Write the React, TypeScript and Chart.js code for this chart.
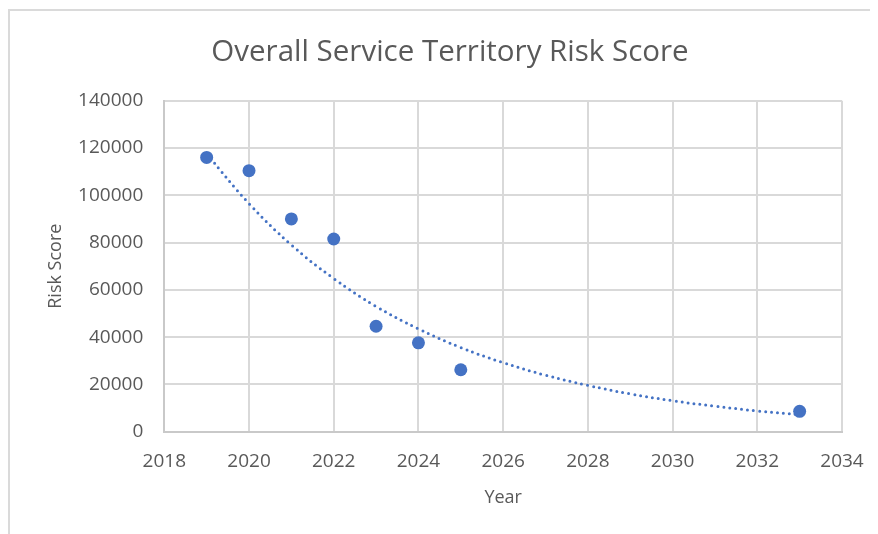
import React, { useEffect, useRef } from "react";
import { Chart, registerables } from "chart.js";

Chart.register(...registerables);

const chartTitle = "Overall Service Territory Risk Score";
const xAxisTitle = "Year";
const yAxisTitle = "Risk Score";

const years = [2019, 2020, 2021, 2022, 2023, 2024, 2025, 2033];
const riskScores = [116000, 110400, 90000, 81500, 44600, 37600, 26200, 8600];

const trendYears = [2019, 2020, 2021, 2022, 2023, 2024, 2025, 2026, 2027, 2028, 2029, 2030, 2031, 2032, 2033];
const trendValues = [117500, 96500, 79000, 64800, 53000, 43500, 35600, 29200, 23900, 19600, 16000, 13100, 10800, 8800, 7200];

const xMin = 2018;
const xMax = 2034;
const xStep = 2;
const yMin = 0;
const yMax = 140000;
const yStep = 20000;

const BLUE = "#4472c4";
const TEXT = "#595959";
const GRID = "#d9d9d9";
const FONT = "'Open Sans', sans-serif";

const titlePlugin = {
  id: "centeredTitle",
  afterDraw(chart: any) {
    const ctx = chart.ctx;
    ctx.save();
    ctx.fillStyle = TEXT;
    ctx.font = `normal 29.5px ${FONT}`;
    ctx.textAlign = "center";
    ctx.textBaseline = "middle";
    ctx.fillText(chartTitle, 440, 41.5);
    ctx.restore();
  },
};

export default function App() {
  const ref = useRef<HTMLCanvasElement | null>(null);

  useEffect(() => {
    if (!ref.current) return;
    const chart = new Chart(ref.current, {
      type: "scatter",
      data: {
        datasets: [
          {
            type: "scatter",
            label: "Risk Score",
            data: years.map((x, i) => ({ x, y: riskScores[i] })),
            backgroundColor: BLUE,
            borderColor: BLUE,
            pointRadius: 6.5,
            pointBorderWidth: 0,
            order: 0,
          },
          {
            type: "line",
            label: "Trend",
            data: trendYears.map((x, i) => ({ x, y: trendValues[i] })),
            borderColor: BLUE,
            borderWidth: 3,
            borderDash: [0, 6],
            borderCapStyle: "round",
            pointRadius: 0,
            tension: 0.4,
            fill: false,
            order: 1,
          } as any,
        ],
      },
      options: {
        animation: false,
        responsive: false,
        maintainAspectRatio: false,
        layout: { padding: { left: 0, right: 36, top: 89.7, bottom: 0 } },
        plugins: {
          legend: { display: false },
          tooltip: { enabled: false },
          title: { display: false },
        },
        scales: {
          x: {
            type: "linear",
            min: xMin,
            max: xMax,
            afterFit: (s: any) => {
              s.height = 102.3;
            },
            ticks: {
              stepSize: xStep,
              color: TEXT,
              font: { family: FONT, size: 19 },
              padding: 0,
              callback: (v: any) => String(v),
            },
            grid: {
              color: GRID,
              lineWidth: 2,
              drawTicks: true,
              tickLength: 18,
              tickColor: "rgba(0,0,0,0)",
            },
            border: { color: "#c9c9c9", width: 2 },
            title: {
              display: true,
              text: xAxisTitle,
              color: TEXT,
              font: { family: FONT, size: 18 },
              padding: { top: 0, bottom: 25 },
            },
          },
          y: {
            type: "linear",
            min: yMin,
            max: yMax,
            afterFit: (s: any) => {
              s.width = 154.3;
            },
            ticks: {
              stepSize: yStep,
              color: TEXT,
              font: { family: FONT, size: 19 },
              padding: 21,
              callback: (v: any) => String(v),
            },
            grid: { color: GRID, lineWidth: 2, drawTicks: false },
            border: { color: "#c9c9c9", width: 2 },
            title: {
              display: true,
              text: yAxisTitle,
              color: TEXT,
              font: { family: FONT, size: 18 },
              padding: { top: 35, bottom: 0 },
            },
          },
        },
      },
      plugins: [titlePlugin],
    });
    return () => chart.destroy();
  }, []);

  return (
    <div
      style={{
        marginTop: 1,
        width: 870,
        height: 525,
        boxSizing: "border-box",
        borderTop: "2px solid #dadada",
        borderLeft: "2px solid #dadada",
        background: "#fff",
        overflow: "hidden",
      }}
    >
      <canvas ref={ref} width={868} height={523} style={{ display: "block", width: 868, height: 523 }} />
    </div>
  );
}
